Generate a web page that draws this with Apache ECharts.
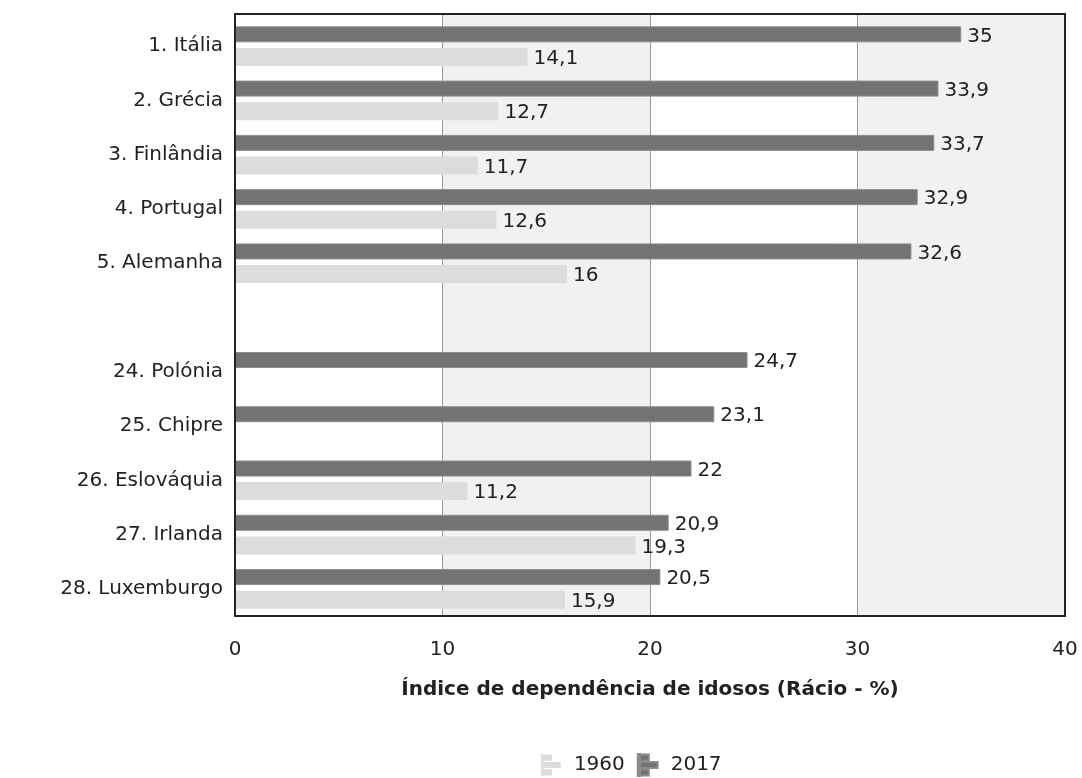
<!DOCTYPE html>
<html>
<head>
<meta charset="utf-8">
<script src="https://cdn.jsdelivr.net/npm/echarts@6/dist/echarts.min.js"></script>
<style>
  html, body { margin: 0; padding: 0; background: #fff; }
  #chart { width: 1082px; height: 778px; }
</style>
</head>
<body>
<div id="chart"></div>
<script>
var categories = ["1. Itália", "2. Grécia", "3. Finlândia", "4. Portugal", "5. Alemanha", "",
  "24. Polónia", "25. Chipre", "26. Eslováquia", "27. Irlanda", "28. Luxemburgo"];
var values2017 = [35, 33.9, 33.7, 32.9, 32.6, null, 24.7, 23.1, 22, 20.9, 20.5];
var values1960 = [14.1, 12.7, 11.7, 12.6, 16, null, null, null, 11.2, 19.3, 15.9];
var xMin = 0;
var xMax = 40;
var xStep = 10;

var chart = echarts.init(document.getElementById("chart"));
var font = "DejaVu Sans, Verdana, sans-serif";
// small bar-chart glyph used in the legend
var barIcon = "path://M0,0h1.2v12h-1.2z M1.2,0.3h4.8v3.4h-4.8z M1.2,4.3h9.6v3.4h-9.6z M1.2,8.3h4.8v3.4h-4.8z";

var labelOpt = {
  show: true,
  position: "right",
  distance: 6,
  offset: [0, 2],
  color: "#222",
  fontSize: 20,
  fontFamily: font,
  formatter: function (p) {
    return String(p.value).replace(".", ",");
  },
};

var option = {
  backgroundColor: "#fff",
  animation: false,
  textStyle: { fontFamily: font },
  grid: [
    {
      // frame: border, bands and x axis
      left: 235,
      right: 17,
      top: 14,
      bottom: 162,
      show: true,
      z: 3,
      borderColor: "#222",
      borderWidth: 2,
      backgroundColor: "transparent",
    },
    {
      // bars
      left: 235,
      right: 17,
      top: 19,
      bottom: 162,
    },
  ],
  legend: {
    top: 748,
    left: 536,
    itemWidth: 20,
    itemHeight: 22,
    itemGap: 12,
    icon: barIcon,
    textStyle: { fontSize: 20, color: "#222", fontFamily: font, padding: [0, 0, 0, 8] },
    data: ["1960", "2017"],
  },
  xAxis: [
    {
      gridIndex: 0,
      type: "value",
      min: xMin,
      max: xMax,
      interval: xStep,
      name: "Índice de dependência de idosos (Rácio - %)",
      nameLocation: "middle",
      nameGap: 64,
      nameTextStyle: { fontSize: 20, fontWeight: "bold", color: "#222", fontFamily: font },
      axisLine: { show: false },
      axisTick: { show: false },
      axisLabel: { fontSize: 20, color: "#222", margin: 24, fontFamily: font },
      splitLine: { show: true, lineStyle: { color: "#999", width: 1 } },
      splitArea: { show: true, areaStyle: { color: ["#ffffff", "#f1f1f1"] } },
    },
    {
      gridIndex: 1,
      type: "value",
      min: xMin,
      max: xMax,
      show: false,
      splitLine: { show: false },
    },
  ],
  yAxis: [
    {
      gridIndex: 0,
      type: "value",
      show: false,
      splitLine: { show: false },
    },
    {
      gridIndex: 1,
      type: "category",
      data: categories,
      inverse: true,
      axisLine: { show: false },
      axisTick: { show: false },
      axisLabel: { fontSize: 20, color: "#222", margin: 12, fontFamily: font },
    },
  ],
  series: [
    {
      name: "2017",
      type: "bar",
      xAxisIndex: 1,
      yAxisIndex: 1,
      data: values2017,
      barWidth: 16,
      barGap: "35%",
      itemStyle: { color: "#737373", borderColor: "#8c8c8c", borderWidth: 1 },
      label: labelOpt,
    },
    {
      name: "1960",
      type: "bar",
      xAxisIndex: 1,
      yAxisIndex: 1,
      data: values1960,
      barWidth: 18,
      itemStyle: { color: "#dcdcdc" },
      label: labelOpt,
    },
  ],
};
chart.setOption(option);
</script>
</body>
</html>
